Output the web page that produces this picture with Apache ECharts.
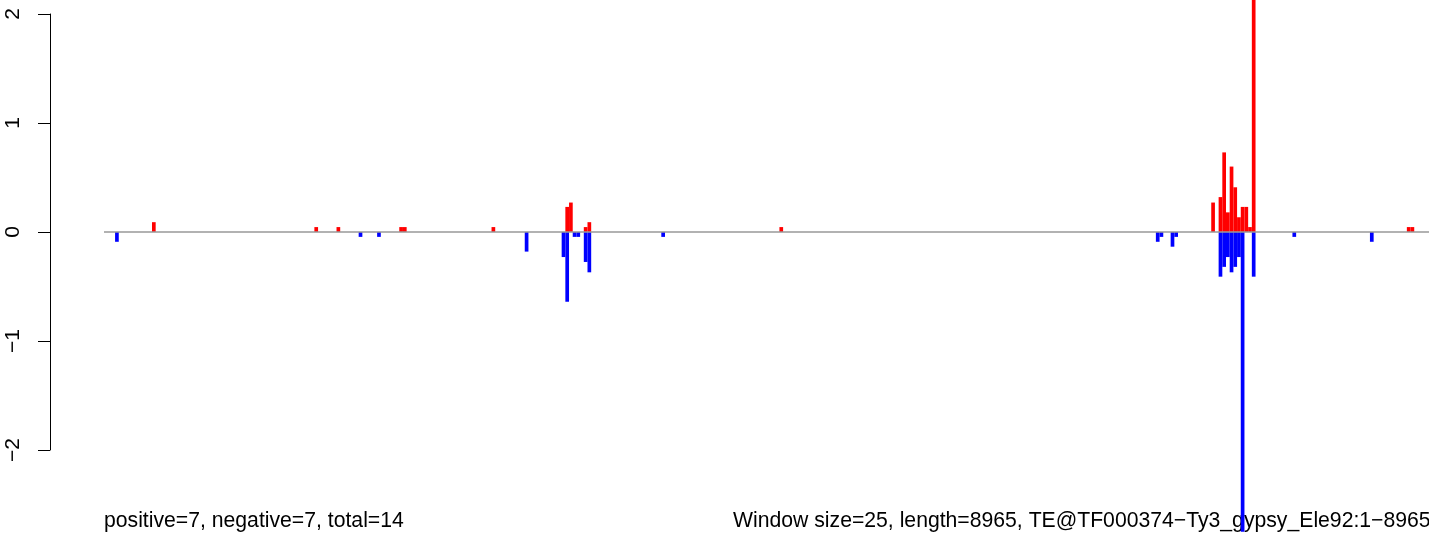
<!DOCTYPE html>
<html>
<head>
<meta charset="utf-8">
<script src="https://cdn.jsdelivr.net/npm/echarts@6/dist/echarts.min.js"></script>
<style>
  html, body { margin: 0; padding: 0; background: #fff; }
  #chart { width: 1429px; height: 537px; }
</style>
</head>
<body>
<div id="chart"></div>
<script>
// ---- data ----
const teLength = 8965;
const windowSize = 25;
const nWindows = Math.ceil(teLength / windowSize); // 359 windows

// positive (red) windows: index and value
const posWindows = [13, 57, 63, 80, 81, 105, 125, 126, 130, 131, 183,
  300, 302, 303, 304, 305, 306, 307, 308, 309, 310, 311, 353, 354];
const posValues = [0.09, 0.045, 0.045, 0.045, 0.045, 0.045, 0.23, 0.27, 0.045, 0.09, 0.045,
  0.27, 0.32, 0.73, 0.18, 0.60, 0.41, 0.135, 0.23, 0.23, 0.045, 2.6, 0.045, 0.045];

// negative (blue) windows: index and value
const negWindows = [3, 69, 74, 114, 124, 125, 127, 128, 130, 131, 151,
  285, 286, 289, 290, 302, 303, 304, 305, 306, 307, 308, 311, 322, 343];
const negValues = [-0.09, -0.045, -0.045, -0.18, -0.23, -0.64, -0.045, -0.045, -0.275, -0.37, -0.045,
  -0.09, -0.045, -0.135, -0.045, -0.41, -0.32, -0.23, -0.37, -0.32, -0.23, -2.75, -0.41, -0.045, -0.09];

const yTicks = [-2, -1, 0, 1, 2];
const leftText = 'positive=7, negative=7, total=14';
const rightText = 'Window size=25, length=8965, TE@TF000374\u2212Ty3_gypsy_Ele92:1\u22128965';

// ---- build ----
const categories = [];
for (let i = 0; i < nWindows; i++) categories.push(i + 1);
const posData = categories.map(() => '-');
const negData = categories.map(() => '-');
posWindows.forEach((w, k) => { posData[w] = posValues[k]; });
negWindows.forEach((w, k) => { negData[w] = negValues[k]; });

const FONT = 'Liberation Sans, Arial, Helvetica, sans-serif';
const chart = echarts.init(document.getElementById('chart'), null, { renderer: 'canvas' });

chart.setOption({
  animation: false,
  backgroundColor: '#ffffff',
  grid: [
    { left: 104, width: 1328, top: 0, bottom: 0, containLabel: false },
    { left: 50, width: 10, top: 14, bottom: 87, containLabel: false }
  ],
  xAxis: [
    { type: 'category', gridIndex: 0, data: categories, show: false, boundaryGap: true },
    { type: 'value', gridIndex: 1, show: false }
  ],
  yAxis: [
    { type: 'value', gridIndex: 0, min: -2.798, max: 2.128, show: false, splitLine: { show: false } },
    {
      type: 'value', gridIndex: 1, min: yTicks[0], max: yTicks[yTicks.length - 1], interval: 1,
      position: 'left',
      axisLine: { show: true, lineStyle: { color: '#000', width: 1 } },
      axisTick: { show: true, length: 12, inside: false, lineStyle: { color: '#000', width: 1 } },
      axisLabel: { show: true, rotate: 90, margin: 26, color: '#000', fontSize: 21, fontFamily: FONT,
        formatter: v => (v < 0 ? '\u2212' + Math.abs(v) : String(v)) },
      splitLine: { show: false }
    }
  ],
  series: [
    {
      type: 'bar', name: 'positive', xAxisIndex: 0, yAxisIndex: 0,
      data: posData, barWidth: '100%', barGap: '-100%', barCategoryGap: 0,
      itemStyle: { color: '#ff0000' }, z: 2
    },
    {
      type: 'bar', name: 'negative', xAxisIndex: 0, yAxisIndex: 0,
      data: negData, barWidth: '100%', barGap: '-100%', barCategoryGap: 0,
      itemStyle: { color: '#0000ff' }, z: 2,
      markLine: {
        silent: true, symbol: 'none', label: { show: false },
        lineStyle: { color: '#999999', type: 'solid', width: 1.5 },
        data: [{ yAxis: 0 }]
      }
    }
  ],
  graphic: [
    { type: 'text', left: 104, top: 511, style: { text: leftText, font: '21.2px ' + FONT, fill: '#000' } },
    { type: 'text', left: 733, top: 511, style: { text: rightText, font: '21.2px ' + FONT, fill: '#000' } }
  ]
});
</script>
</body>
</html>
